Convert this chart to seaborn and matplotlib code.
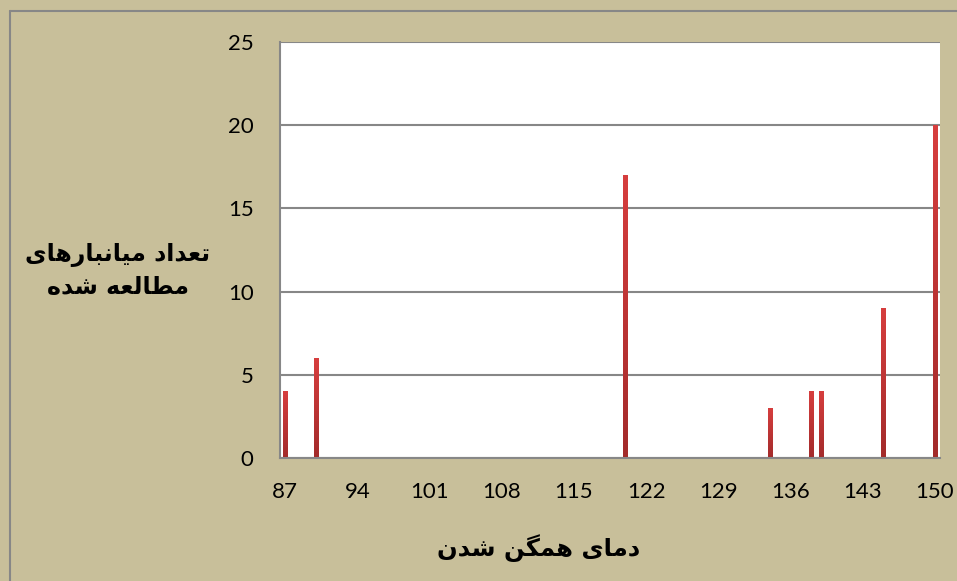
import numpy as np
import pandas as pd
import matplotlib
matplotlib.use("Agg")
from matplotlib import pyplot as plt
from matplotlib.lines import Line2D
from matplotlib.colors import LinearSegmentedColormap
import seaborn as sns

# data
temps = [87, 90, 120, 134, 138, 139, 145, 150]
counts = [4, 6, 17, 3, 4, 4, 9, 20]
tick_labels = ["87", "94", "101", "108", "115", "122", "129", "136", "143", "150"]
y_label = ["تعداد میانبارهای", "مطالعه شده"]
x_label = "دمای همگن شدن"

# matplotlib has no arabic shaping, so pick presentation forms by hand
# (isolated, final, initial, medial)
forms = {
    "ا": ("\uFE8D", "\uFE8E", None, None),
    "د": ("\uFEA9", "\uFEAA", None, None),
    "ر": ("\uFEAD", "\uFEAE", None, None),
    "ب": ("\uFE8F", "\uFE90", "\uFE91", "\uFE92"),
    "ت": ("\uFE95", "\uFE96", "\uFE97", "\uFE98"),
    "ش": ("\uFEB5", "\uFEB6", "\uFEB7", "\uFEB8"),
    "ط": ("\uFEC1", "\uFEC2", "\uFEC3", "\uFEC4"),
    "ع": ("\uFEC9", "\uFECA", "\uFECB", "\uFECC"),
    "ل": ("\uFEDD", "\uFEDE", "\uFEDF", "\uFEE0"),
    "م": ("\uFEE1", "\uFEE2", "\uFEE3", "\uFEE4"),
    "ن": ("\uFEE5", "\uFEE6", "\uFEE7", "\uFEE8"),
    "ه": ("\uFEE9", "\uFEEA", "\uFEEB", "\uFEEC"),
    "ی": ("\uFBFC", "\uFBFD", "\uFBFE", "\uFBFF"),
    "گ": ("\uFB92", "\uFB93", "\uFB94", "\uFB95"),
}


def shape(text):
    out = []
    for i, ch in enumerate(text):
        if ch not in forms:
            out.append(ch)
            continue
        prev = text[i - 1] if i > 0 else ""
        nxt = text[i + 1] if i + 1 < len(text) else ""
        join_prev = prev in forms and forms[prev][2] is not None
        join_next = forms[ch][2] is not None and nxt in forms
        iso, fin, ini, med = forms[ch]
        if join_prev and join_next:
            out.append(med)
        elif join_prev:
            out.append(fin)
        elif join_next:
            out.append(ini)
        else:
            out.append(iso)
    return "".join(out)[::-1]


df = pd.DataFrame({"temp": temps, "count": counts})
order = list(range(87, 151))
df = df.set_index("temp").reindex(order, fill_value=0).reset_index()

bg = "#C8BF9A"
grey = "#878787"

sns.set_style("white")
plt.rcParams["font.family"] = ["Lato", "DejaVu Sans"]
plt.rcParams["text.color"] = "black"
plt.rcParams["xtick.color"] = "black"
plt.rcParams["ytick.color"] = "black"

fig = plt.figure(figsize=(9.57, 5.81), dpi=100, facecolor=bg)
ax = fig.add_axes([280 / 957, 1 - 458 / 581, 660 / 957, 416 / 581])
ax.set_facecolor("white")

sns.barplot(data=df, x="temp", y="count", order=order, width=0.4,
            color="#C0393B", saturation=1, linewidth=0, ax=ax)

# vertical red gradient on each bar, like the office chart
cmap = LinearSegmentedColormap.from_list("bar", ["#A32B2B", "#D63E3E"])
grad = np.linspace(0, 1, 100).reshape(-1, 1)
for p in ax.patches:
    h = p.get_height()
    if h <= 0:
        continue
    x0 = p.get_x()
    im = ax.imshow(grad, cmap=cmap, origin="lower", aspect="auto",
                   extent=[x0, x0 + p.get_width(), 0, h], zorder=p.get_zorder() + 0.1)
    im.set_clip_path(p)

ax.set_xlim(-0.5, 63.5)
ax.set_ylim(0, 25)
ax.set_yticks(range(0, 26, 5))
ax.set_xticks(range(0, 64, 7))
ax.set_xticklabels(tick_labels)
ax.set_xticks(np.arange(-0.5, 64, 7), minor=True)
ax.tick_params(axis="x", which="major", length=0, pad=17, labelsize=16)
ax.tick_params(axis="x", which="minor", length=6, width=1.5, color=grey, direction="out")
ax.tick_params(axis="y", length=7, width=1.5, color=grey, pad=12, labelsize=16)
ax.yaxis.grid(True, color=grey, linewidth=1.5)
ax.set_axisbelow(True)
for s in ["top", "right"]:
    ax.spines[s].set_visible(False)
for s in ["left", "bottom"]:
    ax.spines[s].set_color(grey)
    ax.spines[s].set_linewidth(1.5)
ax.set_xlabel("")
ax.set_ylabel("")

fig.text(118 / 957, 1 - 271 / 581, "\n".join(shape(t) for t in y_label),
         ha="center", va="center", fontsize=17, fontweight="bold",
         family="DejaVu Sans", linespacing=1.45)
fig.text(539 / 957, 1 - 548 / 581, shape(x_label), ha="center", va="center",
         fontsize=17.5, fontweight="bold", family="DejaVu Sans")

# outer chart border (top and left edges are visible in the crop)
fig.add_artist(Line2D([10 / 957, 1], [1 - 11 / 581] * 2, color=grey, lw=1.5))
fig.add_artist(Line2D([10 / 957] * 2, [0, 1 - 11 / 581], color=grey, lw=1.5))

fig.savefig("out.png", dpi=100, facecolor=bg)
